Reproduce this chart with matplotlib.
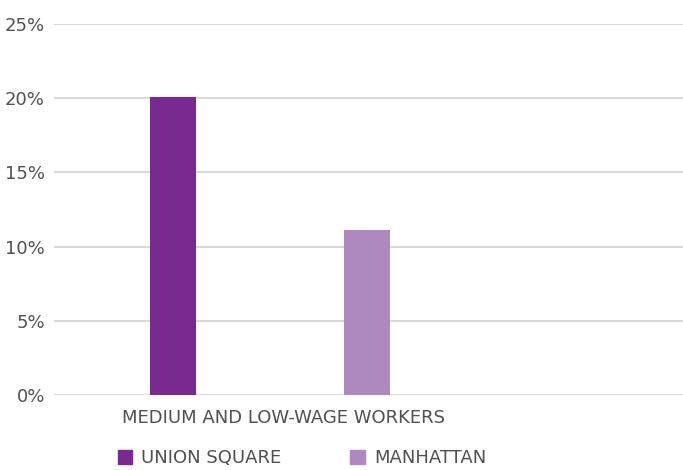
import matplotlib
matplotlib.use('Agg')
import matplotlib.pyplot as plt
from matplotlib.patches import Patch

# Chart data
category = 'MEDIUM AND LOW-WAGE WORKERS'
series = ['UNION SQUARE', 'MANHATTAN']
values = [20.1, 11.1]
colors = ['#782a90', '#ae89bf']
yticks = [0, 5, 10, 15, 20, 25]

plt.rcParams['font.family'] = ['DejaVu Sans']
text_color = '#505050'

fig = plt.figure(figsize=(6.83, 4.70), dpi=100)
W, H = 683, 470
ax = fig.add_axes([54 / W, (H - 395) / H, (683 - 54) / W, (395 - 24) / H])

# bars
x = list(range(len(values)))
ax.bar(x, values, width=0.237, color=colors, zorder=3)

ax.set_xlim((54 - 173) / 194, (683 - 173) / 194)
ax.set_ylim(0, 25)
ax.set_yticks(yticks)
ax.set_yticklabels([f'{t}%' for t in yticks], fontsize=13, color=text_color)
ax.tick_params(axis='y', length=0, pad=6.5)
ax.set_xticks([])

ax.grid(axis='y', color='#d9d9d9', linewidth=1.5, zorder=0)
for s in ax.spines.values():
    s.set_visible(False)

# category label
ax.text((283 - 54) / 629, -0.062, category, transform=ax.transAxes,
        ha='center', va='center', fontsize=13, color=text_color)

# legend
handles = [Patch(color=c, label=s) for s, c in zip(series, colors)]
leg = fig.legend(handles=handles, loc='center left', ncol=2, frameon=False,
                 bbox_to_anchor=(118 / W, (H - 458) / H), fontsize=13,
                 handlelength=0.8, handleheight=0.8, handletextpad=0.5,
                 columnspacing=3.8, borderpad=0, borderaxespad=0)
for t in leg.get_texts():
    t.set_color(text_color)

fig.savefig('out.png', dpi=100)
